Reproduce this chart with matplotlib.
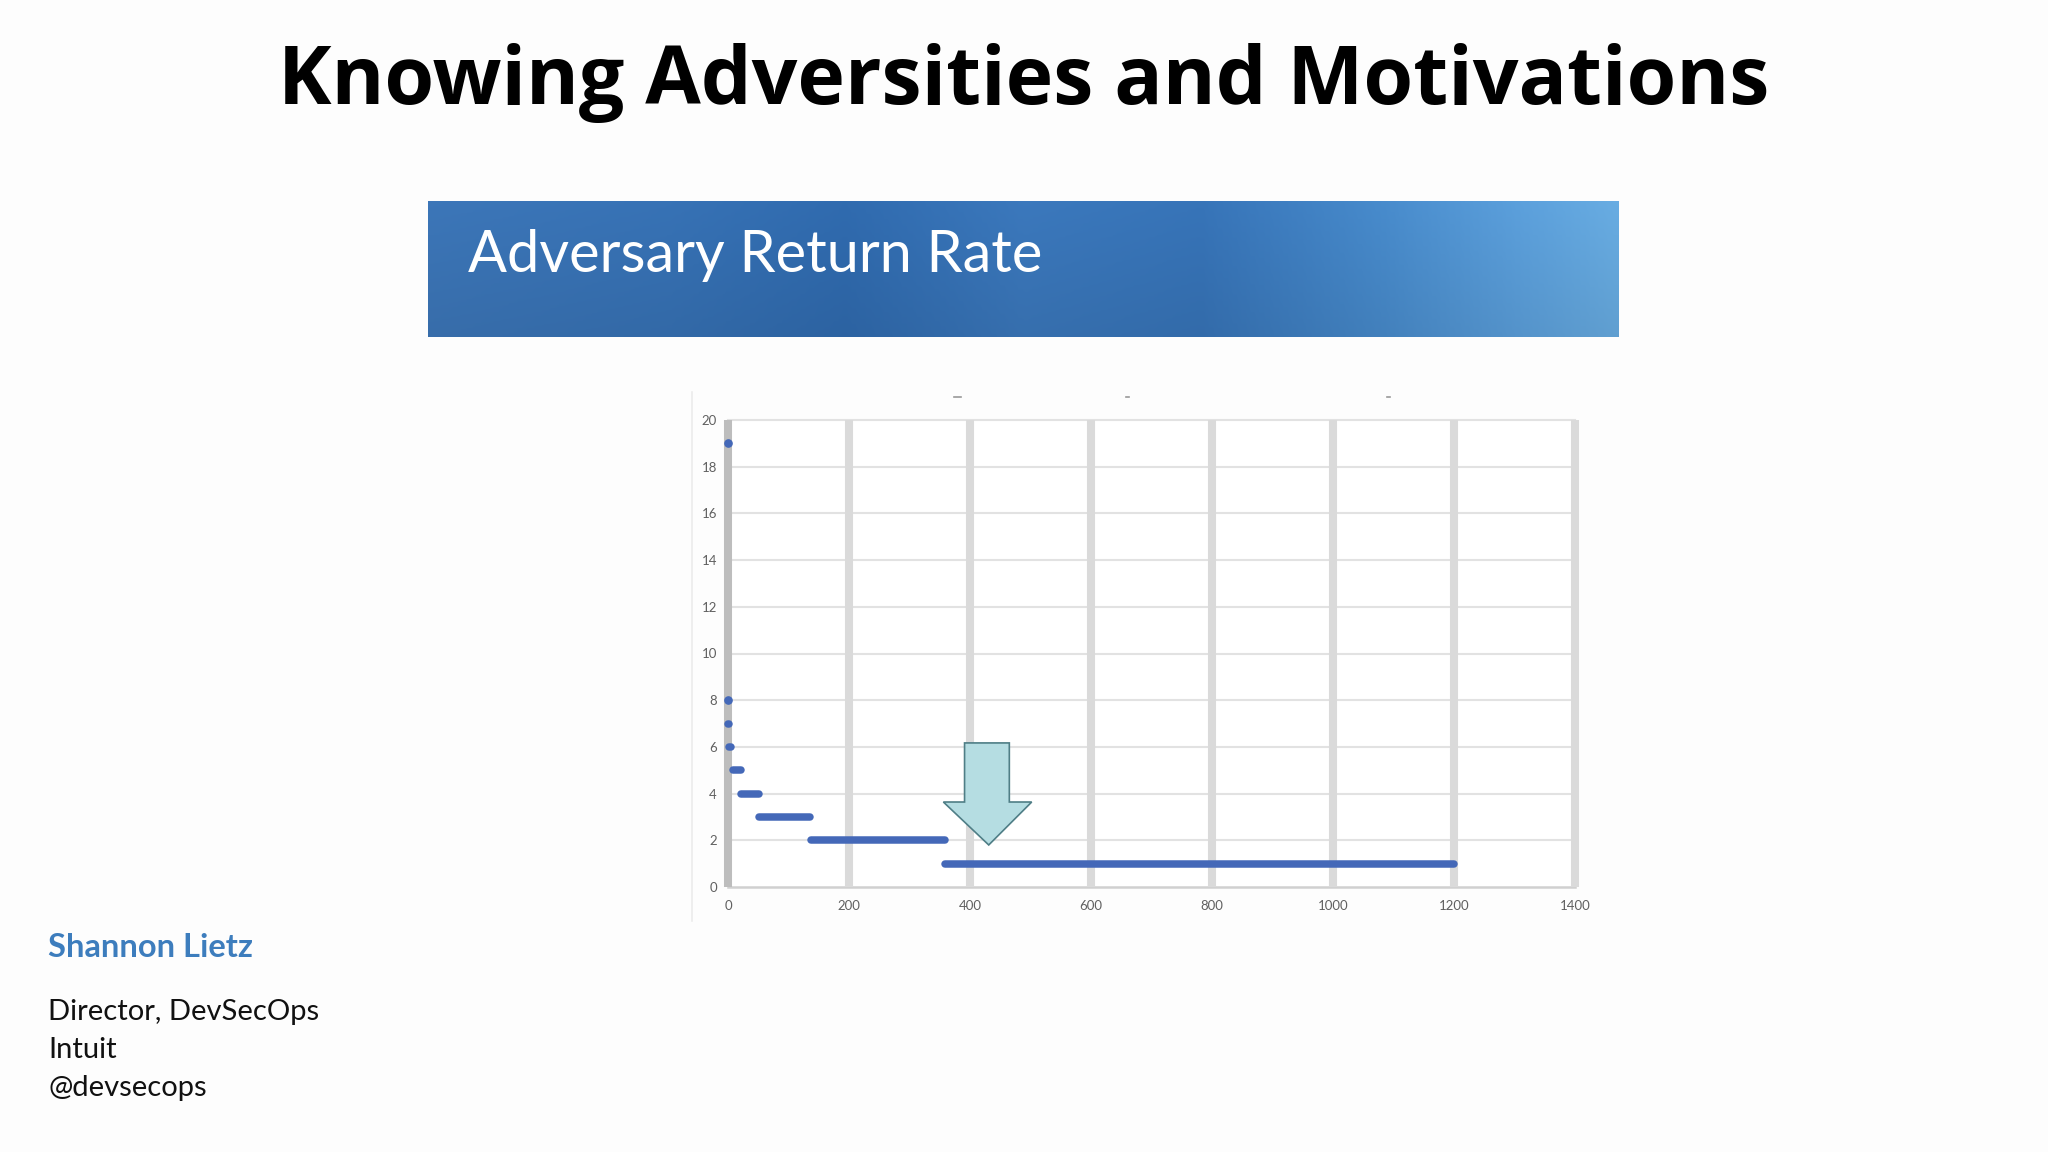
import numpy as np
import matplotlib
matplotlib.use("Agg")
import matplotlib.pyplot as plt
from matplotlib.colors import LinearSegmentedColormap
from matplotlib.patches import Polygon
from matplotlib.lines import Line2D

# number of returns per adversary, and the day range each run covers
return_counts = [19, 8, 7, 6, 5, 4, 3, 2, 1]
run_start = [0, 0, 0, 1, 9, 22, 52, 137, 359]
run_end = [0, 0, 2, 5, 21, 51, 135, 359, 1200]

x_ticks = [0, 200, 400, 600, 800, 1000, 1200, 1400]
y_ticks = [0, 2, 4, 6, 8, 10, 12, 14, 16, 18, 20]

# down arrow callout (data units)
arrow_shaft = (391, 465)
arrow_head = (356, 502)
arrow_top, arrow_neck, arrow_tip = 6.17, 3.64, 1.8

title = "Knowing Adversities and Motivations"
banner_text = "Adversary Return Rate"
speaker = "Shannon Lietz"
speaker_info = ["Director, DevSecOps", "Intuit", "@devsecops"]

W, H = 2048, 1152


def fx(px):
    return px / W


def fy(py):
    return 1 - py / H


def draw_header(fig):
    fig.text(0.5, fy(104), title, ha="center", va="baseline",
             fontsize=58, fontweight="bold", family="Open Sans", color="black")

    # watercolour-ish banner
    bx = fig.add_axes([fx(428), fy(337), fx(1619 - 428), (337 - 201) / H])
    bx.set_axis_off()
    cmap = LinearSegmentedColormap.from_list("banner", [
        (0.0, "#3b74b5"), (0.2, "#3670b2"), (0.35, "#2f69ac"),
        (0.5, "#3a76b9"), (0.65, "#3672b5"), (0.8, "#4688c8"),
        (0.92, "#5a9dd8"), (1.0, "#66a9de")])
    grad = np.tile(np.linspace(0, 1, 400), (60, 1))
    shade = np.linspace(1.02, 0.94, 60)[:, None]
    rgb = np.clip(cmap(grad)[..., :3] * shade[..., None], 0, 1)
    bx.imshow(rgb, aspect="auto", extent=[0, 1, 0, 1])
    fig.text(fx(468), fy(272), banner_text, ha="left", va="baseline",
             fontsize=41.5, family="Lato", color="white")


def draw_chart(fig):
    ax = fig.add_axes([fx(728), fy(887), fx(1575 - 728), (887 - 420) / H])
    ax.set_xlim(0, 1400)
    ax.set_ylim(0, 20)
    for s in ax.spines.values():
        s.set_visible(False)

    for y in y_ticks[1:]:
        ax.axhline(y, color="#e2e2e2", lw=1.5, zorder=1, clip_on=False)
    ax.axhline(0, color="#d0d0d0", lw=1.8, zorder=1, clip_on=False)
    for x in x_ticks:
        c = "#bdbdbd" if x == 0 else "#dadada"
        ax.plot([x, x], [0, 20], color=c, lw=5.8, zorder=1, clip_on=False,
                solid_capstyle="butt")

    for v, s, e in zip(return_counts, run_start, run_end):
        if s == e:
            ax.plot([s], [v], "o", color="#4468b8", ms=5.2, zorder=3,
                    clip_on=False)
        else:
            ax.plot([s, e], [v, v], color="#4468b8", lw=5.4,
                    solid_capstyle="round", zorder=3, clip_on=False)

    pts = [(arrow_shaft[0], arrow_top), (arrow_shaft[1], arrow_top),
           (arrow_shaft[1], arrow_neck), (arrow_head[1], arrow_neck),
           ((arrow_shaft[0] + arrow_shaft[1]) / 2 + 3, arrow_tip),
           (arrow_head[0], arrow_neck), (arrow_shaft[0], arrow_neck)]
    ax.add_patch(Polygon(pts, closed=True, facecolor="#b5dde2",
                         edgecolor="#4f7e86", lw=1.2, zorder=4))

    ax.set_xticks(x_ticks)
    ax.set_yticks(y_ticks)
    ax.tick_params(length=0, labelsize=9.5, labelcolor="#606060")
    ax.tick_params(axis="x", pad=9)
    ax.tick_params(axis="y", pad=8)
    for lab in ax.get_xticklabels() + ax.get_yticklabels():
        lab.set_family("Lato")

    # edge of the pasted chart image and leftover title marks
    fig.add_artist(Line2D([fx(692), fx(692)], [fy(392), fy(921)],
                          color="#ececec", lw=1.2))
    for x0, x1 in [(954, 961), (1126, 1129), (1387, 1390)]:
        fig.add_artist(Line2D([fx(x0), fx(x1)], [fy(397), fy(397)],
                              color="#999999", lw=1.2))


def draw_footer(fig):
    fig.text(fx(48), fy(957), speaker, ha="left", va="baseline",
             fontsize=23.5, fontweight="bold", family="Lato", color="#3d7dbd")
    for i, line in enumerate(speaker_info):
        fig.text(fx(48), fy(1020 + 38 * i), line, ha="left",
                 va="baseline", fontsize=21, family="Lato", color="#111111")


def main():
    fig = plt.figure(figsize=(20.48, 11.52), dpi=100, facecolor="#fdfdfd")
    draw_header(fig)
    draw_chart(fig)
    draw_footer(fig)
    fig.savefig("out.png", dpi=100, facecolor=fig.get_facecolor())


if __name__ == "__main__":
    main()
